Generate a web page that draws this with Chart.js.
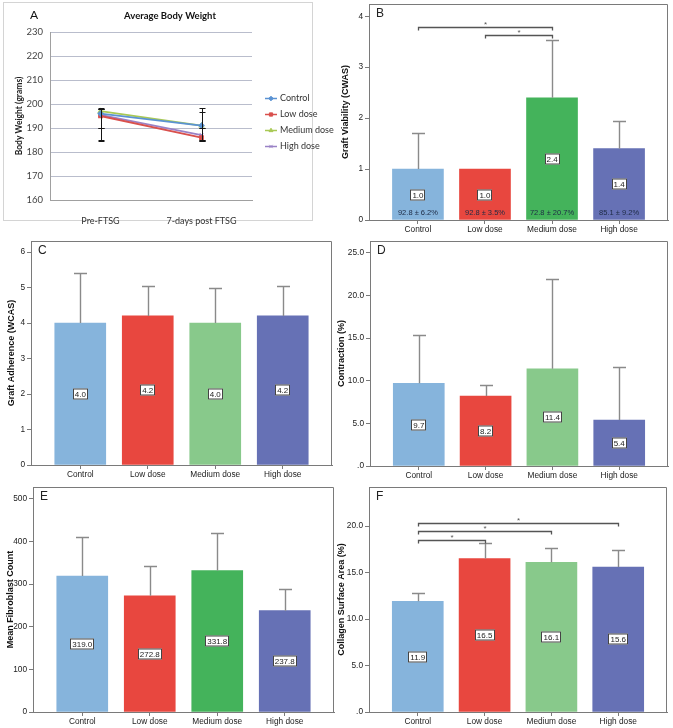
<!DOCTYPE html>
<html>
<head>
<meta charset="utf-8">
<script src="https://cdn.jsdelivr.net/npm/chart.js@4"></script>
<style>
  body { margin: 0; background: #fff; width: 673px; height: 728px; position: relative; overflow: hidden; }
  canvas { position: absolute; }
  #boxA { position: absolute; left: 3px; top: 2px; width: 308px; height: 217px; border: 1px solid #d4d4d4; }
</style>
</head>
<body>
<div id="boxA"></div>
<canvas id="cA"></canvas>
<canvas id="cB"></canvas>
<canvas id="cC"></canvas>
<canvas id="cD"></canvas>
<canvas id="cE"></canvas>
<canvas id="cF"></canvas>
<script>
const groups = ['Control', 'Low dose', 'Medium dose', 'High dose'];

// A: body weight
const timepoints = ['Pre-FTSG', '7-days post FTSG'];
const weightControl = [196, 191];
const weightLow = [195, 186];
const weightMedium = [197, 191];
const weightHigh = [195.5, 187];
// whisker ends [low, high] at each time point
const whiskerControl = [[184.5, 198.5], [185, 196.5]];
const whiskerLow = [[190, 198], [184.5, 190]];
const whiskerMedium = [[185, 198], [184.5, 198.5]];
const whiskerHigh = [[190, 197.8], [185, 190]];
const weightTicks = [160, 170, 180, 190, 200, 210, 220, 230];

// B: graft viability
const viabilityMean = [1.0, 1.0, 2.4, 1.4];
const viabilityUpper = [1.71, 1.0, 3.54, 1.95];
const viabilityPct = ['92.8 ± 6.2%', '92.8 ± 3.5%', '72.8 ± 20.7%', '85.1 ± 9.2%'];
const viabilitySig = [[0, 2, 3.78], [1, 2, 3.64]];
const viabilityTicks = [0, 1, 2, 3, 4];
const viabilityTickLabels = ['0', '1', '2', '3', '4'];

// C: graft adherence
const adherenceMean = [4.0, 4.2, 4.0, 4.2];
const adherenceUpper = [5.41, 5.03, 5.0, 5.03];
const adherenceTicks = [0, 1, 2, 3, 4, 5, 6];
const adherenceTickLabels = ['0', '1', '2', '3', '4', '5', '6'];

// D: contraction
const contractionMean = [9.7, 8.2, 11.4, 5.4];
const contractionUpper = [15.35, 9.47, 21.9, 11.65];
const contractionTicks = [0, 5, 10, 15, 20, 25];
const contractionTickLabels = ['.0', '5.0', '10.0', '15.0', '20.0', '25.0'];

// E: fibroblast count
const fibroMean = [319.0, 272.8, 331.8, 237.8];
const fibroUpper = [411, 343, 421, 289];
const fibroTicks = [0, 100, 200, 300, 400, 500];
const fibroTickLabels = ['0', '100', '200', '300', '400', '500'];

// F: collagen surface area
const collagenMean = [11.9, 16.5, 16.1, 15.6];
const collagenUpper = [12.76, 18.15, 17.6, 17.4];
const collagenSig = [[0, 3, 20.35], [0, 2, 19.45], [0, 1, 18.55]];
const collagenTicks = [0, 5, 10, 15, 20];
const collagenTickLabels = ['.0', '5.0', '10.0', '15.0', '20.0'];

const strongColors = ['#86b4dc', '#e8473f', '#44b35b', '#6671b5'];
const lightColors = ['#86b4dc', '#e8473f', '#88c98b', '#6671b5'];

const AXIS = '#7a7a7a';
const FONT = '"Liberation Sans", Arial, sans-serif';
Chart.defaults.font.family = FONT;
Chart.defaults.color = '#222';

// page geometry: canvas box [x, y, w, h], plot area [l, t, r, b], y title centre x
const GEO = {
  A: { box: [0, 0, 336, 236], area: [50, 32, 252, 200], titleX: 19 },
  B: { box: [336, -8, 337, 248], area: [369, 4, 668, 220], titleX: 346 },
  C: { box: [0, 231, 336, 253], area: [31, 241, 332, 465], titleX: 12 },
  D: { box: [336, 231, 337, 253], area: [370, 241, 668, 466], titleX: 341 },
  E: { box: [0, 477, 336, 251], area: [33, 487, 334, 712], titleX: 11 },
  F: { box: [336, 477, 337, 251], area: [369, 487, 667, 712], titleX: 341 }
};

function setup(id, g) {
  const c = document.getElementById(id);
  c.width = g.box[2]; c.height = g.box[3];
  c.style.left = g.box[0] + 'px'; c.style.top = g.box[1] + 'px';
  c.style.width = g.box[2] + 'px'; c.style.height = g.box[3] + 'px';
  const left = Math.max(g.titleX - 5.5 - g.box[0], 0);
  return {
    ctx: c,
    padding: { left: left, top: g.area[1] - g.box[1], right: g.box[0] + g.box[2] - g.area[2], bottom: 0 },
    yWidth: g.area[0] - g.box[0] - left,
    xHeight: g.box[1] + g.box[3] - g.area[3]
  };
}

function overlay(o) {
  return {
    id: 'overlay',
    afterDatasetsDraw(chart) {
      const { ctx, chartArea: a, scales: { x, y } } = chart;
      const meta = chart.getDatasetMeta(0);
      ctx.save();
      // top and right frame
      ctx.strokeStyle = AXIS; ctx.lineWidth = 1;
      ctx.beginPath();
      ctx.moveTo(Math.round(a.left), Math.round(a.top) + 0.5);
      ctx.lineTo(Math.round(a.right) - 0.5, Math.round(a.top) + 0.5);
      ctx.lineTo(Math.round(a.right) - 0.5, Math.round(a.bottom));
      ctx.stroke();

      // error bars
      ctx.strokeStyle = '#8a8a8a'; ctx.lineWidth = 1.4;
      o.upper.forEach((u, i) => {
        if (u <= o.mean[i]) return;
        const bar = meta.data[i];
        const xc = Math.round(bar.x) + 0.5;
        const yt = Math.round(y.getPixelForValue(u)) + 0.5;
        ctx.beginPath();
        ctx.moveTo(xc, bar.y); ctx.lineTo(xc, yt);
        ctx.moveTo(xc - 6.5, yt); ctx.lineTo(xc + 6.5, yt);
        ctx.stroke();
      });

      // value boxes
      ctx.font = '8px ' + FONT;
      ctx.textAlign = 'center'; ctx.textBaseline = 'middle';
      o.mean.forEach((m, i) => {
        const bar = meta.data[i];
        const txt = m.toFixed(1);
        const w = Math.round(ctx.measureText(txt).width + 4), h = 11;
        const yc = Math.round(y.getPixelForValue(m / 2));
        const xl = Math.round(bar.x - w / 2);
        ctx.fillStyle = '#fff'; ctx.fillRect(xl, yc - h / 2, w, h);
        ctx.strokeStyle = '#444'; ctx.lineWidth = 1;
        ctx.strokeRect(xl + 0.5, yc - h / 2 + 0.5, w - 1, h - 1);
        ctx.fillStyle = '#222'; ctx.fillText(txt, bar.x, yc + 0.5);
      });

      // percentages at bar foot
      if (o.pct) {
        ctx.font = '7.5px ' + FONT; ctx.fillStyle = '#1d2a44';
        o.pct.forEach((t, i) => ctx.fillText(t, meta.data[i].x, y.getPixelForValue(0) - 7));
      }

      // significance brackets
      if (o.sig) {
        ctx.strokeStyle = '#555'; ctx.lineWidth = 1.3;
        ctx.fillStyle = '#555'; ctx.font = '8px ' + FONT;
        o.sig.forEach(([f, t, v]) => {
          const x1 = Math.round(x.getPixelForValue(f)) + 0.5, x2 = Math.round(x.getPixelForValue(t)) + 0.5;
          const yy = Math.round(y.getPixelForValue(v)) + 0.5;
          ctx.beginPath();
          ctx.moveTo(x1, yy + 3); ctx.lineTo(x1, yy); ctx.lineTo(x2, yy); ctx.lineTo(x2, yy + 3);
          ctx.stroke();
          ctx.fillText('*', (x1 + x2) / 2, yy - 3);
        });
      }

      // panel letter
      ctx.font = '12px ' + FONT; ctx.fillStyle = '#222';
      ctx.textAlign = 'left'; ctx.textBaseline = 'top';
      ctx.fillText(o.letter, a.left + 7, a.top + 4);
      ctx.restore();
    }
  };
}

function barPanel(id, g, o) {
  const s = setup(id, g);
  new Chart(s.ctx, {
    type: 'bar',
    data: {
      datasets: [{
        data: o.mean.map((v, i) => ({ x: i, y: v })),
        backgroundColor: o.colors,
        borderWidth: 0,
        barThickness: 51
      }]
    },
    options: {
      responsive: false,
      animation: false,
      layout: { padding: s.padding },
      plugins: { legend: { display: false }, tooltip: { enabled: false } },
      scales: {
        x: {
          type: 'linear', min: -0.73, max: 3.73, offset: false,
          afterBuildTicks: sc => { sc.ticks = groups.map((gname, i) => ({ value: i })); },
          afterFit: sc => { sc.height = s.xHeight; },
          ticks: { callback: (v, i) => groups[i], font: { size: 8.3 }, color: '#222', padding: 1, maxRotation: 0, autoSkip: false },
          grid: { drawOnChartArea: false, offset: false, tickLength: 4, color: AXIS },
          border: { color: AXIS }
        },
        y: {
          min: 0, max: o.yMax,
          afterBuildTicks: sc => { sc.ticks = o.ticks.map(v => ({ value: v })); },
          afterFit: sc => { sc.width = s.yWidth; },
          ticks: { callback: (v, i) => o.tickLabels[i], font: { size: 8.3 }, color: '#222', padding: 2 },
          grid: { drawOnChartArea: false, tickLength: 4, color: AXIS },
          border: { color: AXIS },
          title: { display: true, text: o.title, color: '#111', padding: 0, font: { size: 9, weight: 'bold', lineHeight: 1.2 } }
        }
      }
    },
    plugins: [overlay(o)]
  });
}

// ---- panel A ----
(function () {
  const s = setup('cA', GEO.A);
  const whiskers = [whiskerControl, whiskerLow, whiskerMedium, whiskerHigh];
  const weightOverlay = {
    id: 'weightOverlay',
    afterDatasetsDraw(chart) {
      const { ctx, chartArea: a, scales: { y } } = chart;
      ctx.save();
      ctx.strokeStyle = '#151515'; ctx.lineWidth = 1;
      whiskers.forEach((w, d) => {
        chart.getDatasetMeta(d).data.forEach((pt, i) => {
          const xx = Math.round(pt.x) + 0.5;
          const lo = Math.round(y.getPixelForValue(w[i][0])) + 0.5, hi = Math.round(y.getPixelForValue(w[i][1])) + 0.5;
          ctx.beginPath();
          ctx.moveTo(xx, lo); ctx.lineTo(xx, hi);
          ctx.moveTo(xx - 3, lo); ctx.lineTo(xx + 3, lo);
          ctx.moveTo(xx - 3, hi); ctx.lineTo(xx + 3, hi);
          ctx.stroke();
        });
      });
      ctx.fillStyle = '#111'; ctx.textBaseline = 'middle';
      ctx.font = 'bold 9.5px Lato'; ctx.textAlign = 'center';
      ctx.fillText('Average Body Weight', a.left + 120, 16);
      ctx.font = '12px Lato'; ctx.textAlign = 'left';
      ctx.fillText('A', 30, 15);
      // legend
      const y0 = (a.top + a.bottom) / 2 + 6 - 1.5 * 15.7;
      chart.data.datasets.forEach((ds, i) => {
        const yy = Math.round(y0 + i * 15.7) + 0.5;
        ctx.strokeStyle = ds.borderColor; ctx.fillStyle = ds.borderColor; ctx.lineWidth = 1.5;
        ctx.beginPath(); ctx.moveTo(a.right + 13, yy); ctx.lineTo(a.right + 25, yy); ctx.stroke();
        if (Chart.helpers && Chart.helpers.drawPoint) {
          ctx.lineWidth = 1;
          Chart.helpers.drawPoint(ctx, { pointStyle: ds.pointStyle, radius: 2.3, rotation: 0, borderWidth: 1 }, a.right + 19, yy);
        }
        ctx.fillStyle = '#333'; ctx.font = '9px Lato';
        ctx.fillText(ds.label, a.right + 28, yy);
      });
      ctx.restore();
    }
  };
  const line = (label, data, color, style) => ({
    label, data, borderColor: color, backgroundColor: color, pointBackgroundColor: color,
    pointBorderColor: color, pointStyle: style, pointRadius: 2.5, pointBorderWidth: 1.2, borderWidth: 1.8
  });
  new Chart(s.ctx, {
    type: 'line',
    data: {
      labels: timepoints,
      datasets: [
        line('Control', weightControl, '#5b93d3', 'rectRot'),
        line('Low dose', weightLow, '#d9504d', 'rect'),
        line('Medium dose', weightMedium, '#a9c955', 'triangle'),
        line('High dose', weightHigh, '#9a82c6', 'crossRot')
      ]
    },
    options: {
      responsive: false,
      animation: false,
      layout: { padding: s.padding },
      plugins: { legend: { display: false }, tooltip: { enabled: false } },
      scales: {
        x: {
          type: 'category', offset: true,
          afterFit: sc => { sc.height = s.xHeight; },
          ticks: { font: { family: 'Lato', size: 9 }, color: '#333', padding: 8, maxRotation: 0 },
          grid: { display: false },
          border: { color: '#a0a0a0' }
        },
        y: {
          min: 160, max: 230,
          afterBuildTicks: sc => { sc.ticks = weightTicks.map(v => ({ value: v })); },
          afterFit: sc => { sc.width = s.yWidth; },
          ticks: { font: { family: 'Lato', size: 9.5 }, color: '#444', padding: 7 },
          grid: { color: '#b9bdcc', drawTicks: false },
          border: { color: '#a0a0a0' },
          title: { display: true, text: 'Body Weight (grams)', color: '#222', padding: 0, font: { family: 'Lato', size: 8.5, weight: 'bold', lineHeight: 1.25 } }
        }
      }
    },
    plugins: [weightOverlay]
  });
})();

barPanel('cB', GEO.B, {
  letter: 'B', title: 'Graft Viability (CWAS)', mean: viabilityMean, upper: viabilityUpper,
  pct: viabilityPct, sig: viabilitySig, colors: strongColors, yMax: 4.24,
  ticks: viabilityTicks, tickLabels: viabilityTickLabels
});
barPanel('cC', GEO.C, {
  letter: 'C', title: 'Graft Adherence (WCAS)', mean: adherenceMean, upper: adherenceUpper,
  colors: lightColors, yMax: 6.31, ticks: adherenceTicks, tickLabels: adherenceTickLabels
});
barPanel('cD', GEO.D, {
  letter: 'D', title: 'Contraction (%)', mean: contractionMean, upper: contractionUpper,
  colors: lightColors, yMax: 26.4, ticks: contractionTicks, tickLabels: contractionTickLabels
});
barPanel('cE', GEO.E, {
  letter: 'E', title: 'Mean Fibroblast Count', mean: fibroMean, upper: fibroUpper,
  colors: strongColors, yMax: 528, ticks: fibroTicks, tickLabels: fibroTickLabels
});
barPanel('cF', GEO.F, {
  letter: 'F', title: 'Collagen Surface Area (%)', mean: collagenMean, upper: collagenUpper,
  sig: collagenSig, colors: lightColors, yMax: 24.2, ticks: collagenTicks, tickLabels: collagenTickLabels
});
</script>
</body>
</html>
